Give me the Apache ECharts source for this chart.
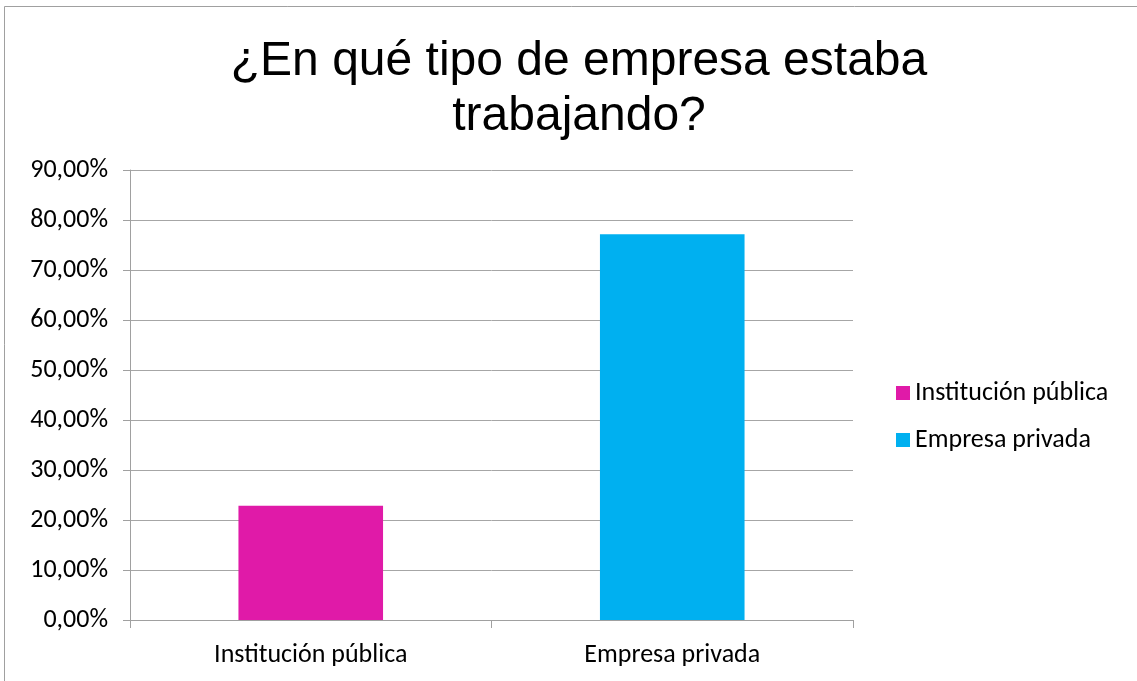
<!DOCTYPE html>
<html>
<head>
<meta charset="utf-8">
<script src="https://cdn.jsdelivr.net/npm/echarts@6/dist/echarts.min.js"></script>
<style>
  html, body { margin: 0; padding: 0; background: #fff; }
  #chart { width: 1137px; height: 681px; }
</style>
</head>
<body>
<div id="chart"></div>
<script>
// datos
var categories = ['Institución pública', 'Empresa privada'];
var seriesNames = ['Institución pública', 'Empresa privada'];
var values = [22.86, 77.14];
var colors = ['#e01aa8', '#00b0f0'];

var labelFont = "Carlito, 'Open Sans', sans-serif";

var chart = echarts.init(document.getElementById('chart'));

var series = seriesNames.map(function (name, i) {
  return {
    name: name,
    type: 'bar',
    stack: 'total',
    barWidth: '40%',
    itemStyle: { color: colors[i] },
    // cada serie sólo tiene su propia categoría
    data: categories.map(function (c, j) { return j === i ? values[i] : '-'; })
  };
});

chart.setOption({
  backgroundColor: '#fff',
  animation: false,
  title: {
    text: '¿En qué tipo de empresa estaba\ntrabajando?',
    left: 574,
    textAlign: 'center',
    top: 29,
    textStyle: {
      fontFamily: "'Liberation Sans', Arial, sans-serif",
      fontWeight: 'normal',
      fontSize: 48,
      lineHeight: 55,
      color: '#000'
    }
  },
  legend: {
    orient: 'vertical',
    left: 891,
    top: 375,
    itemWidth: 14,
    itemHeight: 14,
    itemGap: 21,
    icon: 'rect',
    data: seriesNames,
    textStyle: { fontFamily: labelFont, fontSize: 26, color: '#000' }
  },
  grid: { left: 130, right: 284, top: 170, bottom: 61 },
  xAxis: {
    type: 'category',
    data: categories,
    axisLine: { lineStyle: { color: '#a0a0a0', width: 1 } },
    axisTick: { show: true, length: 8, lineStyle: { color: '#a0a0a0' } },
    axisLabel: { fontFamily: labelFont, fontSize: 26, color: '#000', margin: 22 }
  },
  yAxis: {
    type: 'value',
    min: 0,
    max: 90,
    interval: 10,
    axisLine: { show: true, lineStyle: { color: '#a0a0a0', width: 1 } },
    axisTick: { show: true, length: 7, lineStyle: { color: '#a0a0a0' } },
    splitLine: { lineStyle: { color: '#a6a6a6', width: 1 } },
    axisLabel: {
      fontFamily: labelFont,
      fontSize: 26,
      color: '#000',
      margin: 22,
      formatter: function (v) { return v.toFixed(2).replace('.', ',') + '%'; }
    }
  },
  graphic: [{
    type: 'rect',
    shape: { x: 4.5, y: 6.5, width: 1140, height: 700 },
    style: { fill: 'none', stroke: '#a0a0a0', lineWidth: 1 },
    silent: true
  }],
  series: series
});
</script>
</body>
</html>
